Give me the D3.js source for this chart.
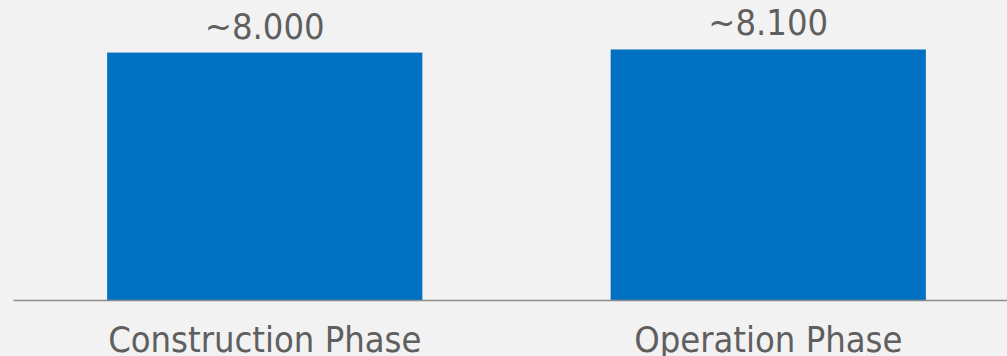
<!DOCTYPE html>
<html>
<head>
<meta charset="utf-8">
<script src="https://cdn.jsdelivr.net/npm/d3@7"></script>
<style>
  html, body { margin: 0; padding: 0; background: #f2f2f2; }
  svg { display: block; }
  .lbl { font-family: "DejaVu Sans Condensed", "DejaVu Sans", sans-serif; font-stretch: condensed; }
</style>
</head>
<body>
<div id="chart"></div>
<script>
// Chart data
const phases = ['Construction Phase', 'Operation Phase'];
const jobs = [8000, 8100];

const width = 1007;
const height = 356;
const baseY = 300;

// German-style number format: 8.000
const de = d3.formatLocale({ decimal: ',', thousands: '.', grouping: [3], currency: ['', ' €'] });
const fmt = de.format(',.0f');

const svg = d3.select('#chart')
  .append('svg')
  .attr('width', width)
  .attr('height', height)
  .style('background', '#f2f2f2');

const x = d3.scaleBand()
  .domain(phases)
  .range([13, 1020])
  .paddingInner(0.374)
  .paddingOuter(0.187);

const y = d3.scaleLinear()
  .domain([0, 9700])
  .range([baseY, 0]);

// Bars
svg.append('g')
  .selectAll('rect')
  .data(phases)
  .join('rect')
  .attr('x', d => x(d))
  .attr('width', x.bandwidth())
  .attr('y', (d, i) => y(jobs[i]))
  .attr('height', (d, i) => baseY - y(jobs[i]))
  .attr('fill', '#0070c0');

// Value labels
svg.append('g')
  .selectAll('text')
  .data(phases)
  .join('text')
  .attr('class', 'lbl')
  .attr('x', d => x(d) + x.bandwidth() / 2)
  .attr('y', (d, i) => y(jobs[i]) - 14)
  .attr('text-anchor', 'middle')
  .style('font-size', '36px')
  .style('fill', '#5f5f5f')
  .text((d, i) => '~' + fmt(jobs[i]));

// Category axis
const axis = svg.append('g')
  .attr('transform', `translate(0,${baseY})`)
  .call(d3.axisBottom(x).tickSize(0).tickSizeOuter(0));

axis.select('.domain')
  .attr('stroke', '#8c8c8c')
  .attr('stroke-width', 1.5);

axis.selectAll('text')
  .attr('class', 'lbl')
  .attr('y', 52)
  .attr('dy', 0)
  .style('font-size', '36px')
  .style('fill', '#5f5f5f');
</script>
</body>
</html>
